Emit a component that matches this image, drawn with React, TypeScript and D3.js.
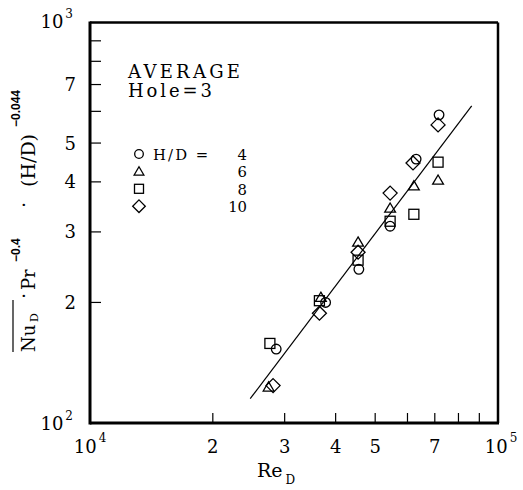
import React from "react";
import * as d3 from "d3";

// H/D series: Re_D and Nu_D.Pr^-0.4.(H/D)^-0.044
const hdLabels = ["4", "6", "8", "10"];
const shapes = ["circle", "triangle", "square", "diamond"];

const reHD4 = [28600, 37800, 45600, 54400, 63000, 71700];
const nuHD4 = [153, 200, 242, 310, 456, 588];
const reHD6 = [27400, 36800, 45400, 54400, 62200, 71300];
const nuHD6 = [123, 206, 283, 344, 391, 404];
const reHD8 = [27600, 36500, 45400, 54400, 62200, 71300];
const nuHD8 = [158, 202, 255, 319, 332, 448];
const reHD10 = [28100, 36500, 45400, 54400, 61900, 71300];
const nuHD10 = [124, 188, 267, 375, 446, 555];

// correlation line end points
const fitRe = [24700, 86200];
const fitNu = [115, 619];

// axis ticks
const xMinor = [2e4, 3e4, 4e4, 5e4, 6e4, 7e4, 8e4, 9e4];
const xLabelVals = [2e4, 3e4, 4e4, 5e4, 7e4];
const xLabels = ["2", "3", "4", "5", "7"];
const yMinor = [200, 300, 400, 500, 600, 700, 800, 900];
const yLabelVals = [200, 300, 400, 500, 700];
const yLabels = ["2", "3", "4", "5", "7"];

const series = [
  { re: reHD4, nu: nuHD4 },
  { re: reHD6, nu: nuHD6 },
  { re: reHD8, nu: nuHD8 },
  { re: reHD10, nu: nuHD10 },
];

const W = 523;
const H = 490;
const serif = "'DejaVu Serif', serif";
const sans = "'Liberation Sans', 'DejaVu Sans', sans-serif";

function Marker({ shape, cx, cy, s = 1 }: { shape: string; cx: number; cy: number; s?: number }) {
  const common = { fill: "none", stroke: "#000", strokeWidth: 1.3 };
  if (shape === "circle") return <circle cx={cx} cy={cy} r={4.8 * s} {...common} />;
  if (shape === "square") {
    const h = 5 * s;
    return <rect x={cx - h} y={cy - h} width={2 * h} height={2 * h} {...common} />;
  }
  if (shape === "triangle") {
    const h = 5.4 * s;
    const d = `M${cx},${cy - h * 0.95}L${cx + h},${cy + h * 0.75}L${cx - h},${cy + h * 0.75}Z`;
    return <path d={d} {...common} />;
  }
  const r = 7 * s;
  const d = `M${cx},${cy - r}L${cx + r},${cy}L${cx},${cy + r}L${cx - r},${cy}Z`;
  return <path d={d} {...common} />;
}

export default function App() {
  const x = d3.scaleLog().domain([1e4, 1e5]).range([90, 498]);
  const y = d3.scaleLog().domain([100, 1000]).range([423, 22.5]);
  const [x0, x1] = x.range();
  const [y0, y1] = y.range();

  const line = d3
    .line<number>()
    .x((_, i) => x(fitRe[i]))
    .y((d) => y(d));

  const legendY0 = 154;
  const legendStep = 17.4;

  return (
    <svg
      width={W}
      height={H}
      style={{ position: "absolute", left: 0, top: 0, background: "#fff" }}
    >
      {/* frame */}
      <line x1={x0} x2={x1} y1={y1} y2={y1} stroke="#000" strokeWidth={2.5} />
      <line x1={x1} x2={x1} y1={y1} y2={y0} stroke="#000" strokeWidth={2.5} />
      <line x1={x0} x2={x1 + 1} y1={y0} y2={y0} stroke="#000" strokeWidth={3} />
      <line x1={x0} x2={x0} y1={y1 - 1} y2={y0 + 1.5} stroke="#000" strokeWidth={3} />

      {/* ticks */}
      {xMinor.map((v) => (
        <line key={"xt" + v} x1={x(v)} x2={x(v)} y1={y0} y2={y0 - 10} stroke="#000" strokeWidth={1.2} />
      ))}
      {yMinor.map((v) => (
        <line key={"yt" + v} x1={x0} x2={x0 + 11} y1={y(v)} y2={y(v)} stroke="#000" strokeWidth={1.2} />
      ))}

      {/* tick labels */}
      <g fontFamily={serif} fontSize={18} fill="#000">
        {xLabelVals.map((v, i) => (
          <text key={"xl" + v} x={x(v)} y={453} textAnchor="middle">
            {xLabels[i]}
          </text>
        ))}
        {yLabelVals.map((v, i) => (
          <text key={"yl" + v} x={76} y={y(v)} dy="0.36em" textAnchor="end">
            {yLabels[i]}
          </text>
        ))}
        <text x={73} y={28} textAnchor="end">
          10<tspan dx={2} dy={-10} fontSize={12}>3</tspan>
        </text>
        <text x={73} y={430} textAnchor="end">
          10<tspan dx={2} dy={-10} fontSize={12}>2</tspan>
        </text>
        <text x={x(1e4)} y={453} textAnchor="middle">
          10<tspan dx={2} dy={-11} fontSize={12}>4</tspan>
        </text>
        <text x={x(1e5) + 3} y={453} textAnchor="middle">
          10<tspan dx={2} dy={-11} fontSize={12}>5</tspan>
        </text>
      </g>

      {/* x axis title */}
      <text x={257} y={477} fontFamily={serif} fontSize={19}>
        Re<tspan dx={3} dy={7} fontSize={12}>D</tspan>
      </text>

      {/* y axis title */}
      <line x1={13} x2={13} y1={300} y2={352} stroke="#000" strokeWidth={1.2} />
      <g transform="rotate(-90)" fill="#000">
        <text x={-352} y={35} fontFamily={serif} fontSize={18}>Nu</text>
        <text x={-322} y={38} fontFamily={serif} fontSize={11}>D</text>
        <text x={-296} y={30} fontFamily={serif} fontSize={18} textAnchor="middle">·</text>
        <text x={-290} y={35} fontFamily={serif} fontSize={18}>Pr</text>
        <text x={-262} y={20} fontFamily={sans} fontWeight="bold" fontSize={12}>−0.4</text>
        <text x={-205} y={30} fontFamily={serif} fontSize={18} textAnchor="middle">·</text>
        <text x={-187} y={35} fontFamily={serif} fontSize={19}>(H/D)</text>
        <text x={-127} y={20} fontFamily={sans} fontWeight="bold" fontSize={12}>−0.044</text>
      </g>

      {/* fit line */}
      <path d={line(fitNu) || ""} fill="none" stroke="#000" strokeWidth={1.2} />

      {/* data */}
      {series.map((s, si) =>
        s.re.map((r, i) => (
          <Marker key={si + "-" + i} shape={shapes[si]} cx={x(r)} cy={y(s.nu[i])} />
        ))
      )}

      {/* legend */}
      <g fontFamily={serif} fill="#000">
        <text fontSize={18}>
          <tspan x={128} y={78} textLength={112} lengthAdjust="spacing">AVERAGE</tspan>
          <tspan x={128} y={97} textLength={84} lengthAdjust="spacing">Hole=3</tspan>
        </text>
        {hdLabels.map((lab, i) => (
          <Marker key={"lm" + lab} shape={shapes[i]} cx={139} cy={legendY0 + i * legendStep} s={0.9} />
        ))}
        <text x={153} y={legendY0 + 6} fontSize={14.8} textLength={34} lengthAdjust="spacing">H/D</text>
        <text x={202} y={legendY0 + 6} fontSize={14.8} textAnchor="middle">=</text>
        {hdLabels.map((lab, i) => (
          <text key={"lt" + lab} x={247} y={legendY0 + 6 + i * legendStep} fontSize={14.8} textAnchor="end">
            {lab}
          </text>
        ))}
      </g>
    </svg>
  );
}
